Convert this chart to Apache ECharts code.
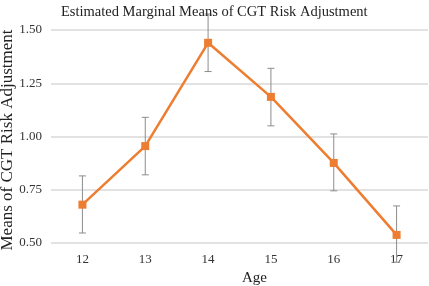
<!DOCTYPE html>
<html>
<head>
<meta charset="utf-8">
<script src="https://cdn.jsdelivr.net/npm/echarts@6/dist/echarts.min.js"></script>
<style>
  html, body { margin: 0; padding: 0; background: #fff; }
  #chart { width: 429px; height: 286px; }
</style>
</head>
<body>
<div id="chart"></div>
<script>
// 数据
const ages = ['12', '13', '14', '15', '16', '17'];
const means = [0.68, 0.955, 1.44, 1.186, 0.876, 0.538];
const lower = [0.547, 0.82, 1.305, 1.05, 0.745, 0.41];
const upper = [0.815, 1.09, 1.575, 1.32, 1.012, 0.674];

const serif = '"Liberation Serif", "DejaVu Serif", serif';

const chart = echarts.init(document.getElementById('chart'));

const errData = ages.map((a, i) => [i, lower[i], upper[i]]);

const option = {
    animation: false,
    title: {
        text: 'Estimated Marginal Means of CGT Risk Adjustment',
        left: 56,
        top: 0,
        textStyle: {
            fontFamily: serif,
            fontWeight: 'normal',
            fontSize: 14.5,
            color: '#222'
        }
    },
    // y 轴标题
    graphic: [{
        type: 'text',
        x: 8,
        y: 140,
        rotation: Math.PI / 2,
        style: {
            text: 'Means of CGT Risk Adjustment',
            font: '17px ' + serif,
            fill: '#222',
            align: 'center',
            verticalAlign: 'middle'
        }
    }],
    grid: {
        left: 51,
        right: 1,
        top: 30,
        bottom: 43,
        outerBoundsMode: 'none',
        containLabel: false
    },
    xAxis: {
        type: 'category',
        data: ages,
        name: 'Age',
        nameLocation: 'middle',
        nameGap: 28,
        nameTextStyle: {
            fontFamily: serif,
            fontSize: 15,
            color: '#222',
            padding: [0, 0, 0, 30]
        },
        axisLine: { show: false },
        axisTick: { show: false },
        axisLabel: {
            fontFamily: serif,
            fontSize: 13,
            color: '#333',
            margin: 10
        }
    },
    yAxis: {
        type: 'value',
        min: 0.5,
        max: 1.5,
        interval: 0.25,
        axisLabel: {
            fontFamily: serif,
            fontSize: 13,
            color: '#333',
            margin: 9,
            formatter: v => v.toFixed(2)
        },
        splitLine: {
            lineStyle: { color: '#d9d9d9', width: 1.5 }
        }
    },
    series: [
        {
            type: 'custom',
            clip: false,
            z: 1,
            renderItem: function (params, api) {
                const x = api.coord([api.value(0), api.value(1)])[0];
                const yLo = api.coord([api.value(0), api.value(1)])[1];
                const yHi = api.coord([api.value(0), api.value(2)])[1];
                const style = { stroke: '#8c8c8c', lineWidth: 1 };
                const cap = 3.5;
                return {
                    type: 'group',
                    children: [
                        { type: 'line', shape: { x1: x, y1: yHi, x2: x, y2: yLo }, style: style },
                        { type: 'line', shape: { x1: x - cap, y1: yHi, x2: x + cap, y2: yHi }, style: style },
                        { type: 'line', shape: { x1: x - cap, y1: yLo, x2: x + cap, y2: yLo }, style: style }
                    ]
                };
            },
            data: errData
        },
        {
            type: 'line',
            data: means,
            z: 3,
            symbol: 'rect',
            symbolSize: 8,
            lineStyle: { color: '#ED7D31', width: 2.5 },
            itemStyle: { color: '#ED7D31' }
        }
    ]
};

chart.setOption(option);

window.addEventListener('resize', () => {
    chart.resize();
});
</script>
</body>
</html>
